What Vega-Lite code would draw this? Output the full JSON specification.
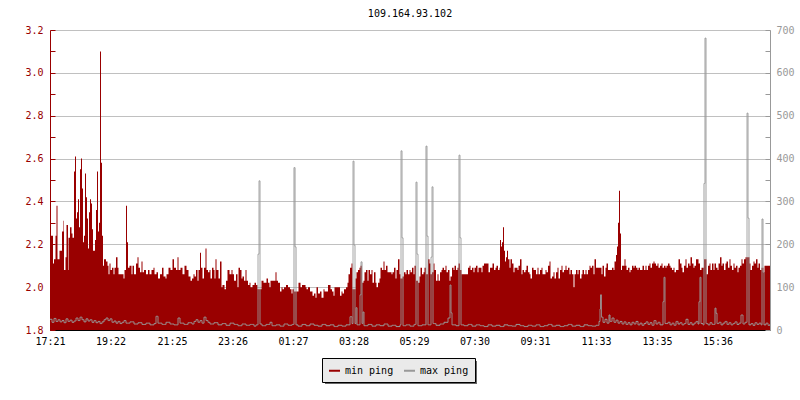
{
"$schema": "https://vega.github.io/schema/vega-lite/v6.json",
"width": 720, "height": 300,
"autosize": {"type": "none"},
"padding": {"left": 50, "top": 30, "right": 30, "bottom": 70},
"background": "white",
"title": {"text": "109.164.93.102", "font": "DejaVu Sans Mono", "fontSize": 10, "fontWeight": "normal", "color": "black", "offset": 6, "anchor": "middle"},
"config": {"view": {"stroke": null}},
"datasets": {
"minp": [
{"t":0,"v":2.24},{"t":6,"v":2.11},{"t":8,"v":2.13},{"t":11,"v":2.24},{"t":13,"v":2.38},{"t":15,"v":2.13},{"t":19,"v":2.17},{"t":24,"v":2.26},{"t":27,"v":2.31},{"t":28,"v":2.08},{"t":31,"v":2.14},{"t":33,"v":2.29},{"t":36,"v":2.08},{"t":37,"v":2.23},{"t":40,"v":2.28},{"t":43,"v":2.25},{"t":45,"v":2.23},{"t":48,"v":2.54},{"t":50,"v":2.61},{"t":52,"v":2.32},{"t":54,"v":2.35},{"t":56,"v":2.41},{"t":58,"v":2.28},{"t":60,"v":2.55},{"t":62,"v":2.6},{"t":64,"v":2.46},{"t":66,"v":2.21},{"t":68,"v":2.24},{"t":70,"v":2.53},{"t":72,"v":2.42},{"t":74,"v":2.32},{"t":76,"v":2.18},{"t":78,"v":2.35},{"t":80,"v":2.41},{"t":82,"v":2.39},{"t":84,"v":2.27},{"t":86,"v":2.17},{"t":88,"v":2.17},{"t":90,"v":2.22},{"t":92,"v":2.36},{"t":94,"v":2.54},{"t":96,"v":2.26},{"t":98,"v":2.3},{"t":100,"v":3.1},{"t":102,"v":2.58},{"t":104,"v":2.24},{"t":106,"v":2.1},{"t":108,"v":2.13},{"t":112,"v":2.12},{"t":115,"v":2.1},{"t":117,"v":2.06},{"t":119,"v":2.11},{"t":121,"v":2.08},{"t":124,"v":2.09},{"t":127,"v":2.06},{"t":129,"v":2.09},{"t":132,"v":2.14},{"t":135,"v":2.09},{"t":137,"v":2.06},{"t":147,"v":2.04},{"t":149,"v":2.08},{"t":152,"v":2.38},{"t":154,"v":2.21},{"t":156,"v":2.09},{"t":159,"v":2.1},{"t":163,"v":2.06},{"t":165,"v":2.1},{"t":168,"v":2.06},{"t":172,"v":2.11},{"t":175,"v":2.14},{"t":177,"v":2.09},{"t":180,"v":2.07},{"t":183,"v":2.12},{"t":185,"v":2.07},{"t":188,"v":2.08},{"t":192,"v":2.06},{"t":196,"v":2.08},{"t":199,"v":2.06},{"t":203,"v":2.08},{"t":207,"v":2.09},{"t":209,"v":2.06},{"t":213,"v":2.07},{"t":216,"v":2.04},{"t":220,"v":2.06},{"t":224,"v":2.09},{"t":227,"v":2.05},{"t":231,"v":2.04},{"t":233,"v":2.06},{"t":237,"v":2.09},{"t":241,"v":2.08},{"t":245,"v":2.13},{"t":248,"v":2.09},{"t":252,"v":2.08},{"t":255,"v":2.14},{"t":257,"v":2.08},{"t":261,"v":2.09},{"t":265,"v":2.06},{"t":269,"v":2.1},{"t":273,"v":2.08},{"t":277,"v":2.05},{"t":281,"v":2.03},{"t":284,"v":2.04},{"t":287,"v":2.06},{"t":289,"v":2.05},{"t":292,"v":2.08},{"t":295,"v":2.03},{"t":297,"v":2.08},{"t":300,"v":2.16},{"t":302,"v":2.09},{"t":305,"v":2.04},{"t":308,"v":2.09},{"t":311,"v":2.18},{"t":313,"v":2.08},{"t":316,"v":2.07},{"t":319,"v":2.08},{"t":321,"v":2.04},{"t":324,"v":2.09},{"t":327,"v":2.08},{"t":329,"v":2.04},{"t":331,"v":2.13},{"t":333,"v":2.08},{"t":337,"v":2.04},{"t":340,"v":2.12},{"t":343,"v":2.0},{"t":345,"v":2.01},{"t":349,"v":1.99},{"t":352,"v":2.03},{"t":355,"v":2.08},{"t":359,"v":2.06},{"t":363,"v":2.08},{"t":365,"v":2.06},{"t":368,"v":2.03},{"t":372,"v":2.06},{"t":375,"v":2.0},{"t":377,"v":2.09},{"t":380,"v":2.08},{"t":383,"v":2.04},{"t":385,"v":2.05},{"t":388,"v":2.03},{"t":391,"v":2.08},{"t":393,"v":2.03},{"t":396,"v":2.01},{"t":399,"v":2.02},{"t":401,"v":2.0},{"t":405,"v":2.01},{"t":409,"v":2.02},{"t":412,"v":2.01},{"t":415,"v":1.99},{"t":423,"v":2.03},{"t":427,"v":2.02},{"t":431,"v":2.02},{"t":433,"v":2.04},{"t":436,"v":2.02},{"t":439,"v":2.0},{"t":441,"v":2.03},{"t":451,"v":2.07},{"t":453,"v":2.03},{"t":456,"v":2.02},{"t":460,"v":1.98},{"t":463,"v":2.0},{"t":465,"v":1.99},{"t":468,"v":2.0},{"t":472,"v":2.01},{"t":476,"v":2.0},{"t":480,"v":1.99},{"t":483,"v":1.97},{"t":485,"v":1.99},{"t":488,"v":1.98},{"t":497,"v":2.02},{"t":501,"v":2.0},{"t":504,"v":2.01},{"t":511,"v":2.0},{"t":513,"v":1.99},{"t":516,"v":2.0},{"t":520,"v":1.98},{"t":525,"v":1.96},{"t":528,"v":1.97},{"t":531,"v":1.95},{"t":533,"v":2.0},{"t":536,"v":1.97},{"t":540,"v":1.98},{"t":543,"v":1.95},{"t":547,"v":1.99},{"t":549,"v":1.98},{"t":556,"v":2.01},{"t":561,"v":1.99},{"t":564,"v":1.98},{"t":567,"v":1.96},{"t":569,"v":2.0},{"t":580,"v":1.96},{"t":583,"v":1.98},{"t":585,"v":1.97},{"t":588,"v":1.99},{"t":592,"v":2.0},{"t":595,"v":2.02},{"t":597,"v":2.06},{"t":600,"v":2.09},{"t":603,"v":2.11},{"t":605,"v":1.99},{"t":611,"v":2.04},{"t":613,"v":2.07},{"t":616,"v":2.08},{"t":619,"v":2.09},{"t":621,"v":2.1},{"t":624,"v":2.02},{"t":627,"v":2.03},{"t":629,"v":2.07},{"t":632,"v":2.08},{"t":635,"v":2.03},{"t":637,"v":2.08},{"t":640,"v":2.06},{"t":643,"v":2.08},{"t":645,"v":2.02},{"t":648,"v":2.07},{"t":651,"v":2.02},{"t":653,"v":2.0},{"t":656,"v":2.02},{"t":659,"v":2.04},{"t":661,"v":2.09},{"t":664,"v":2.08},{"t":667,"v":2.12},{"t":669,"v":2.08},{"t":672,"v":2.1},{"t":675,"v":2.07},{"t":683,"v":2.06},{"t":685,"v":2.07},{"t":688,"v":2.09},{"t":691,"v":2.04},{"t":693,"v":2.08},{"t":696,"v":2.13},{"t":699,"v":2.06},{"t":701,"v":2.04},{"t":705,"v":2.05},{"t":708,"v":2.07},{"t":711,"v":2.06},{"t":713,"v":2.08},{"t":716,"v":2.06},{"t":719,"v":2.08},{"t":721,"v":2.07},{"t":724,"v":2.09},{"t":727,"v":2.06},{"t":729,"v":2.1},{"t":732,"v":2.03},{"t":736,"v":2.02},{"t":739,"v":2.05},{"t":741,"v":2.09},{"t":744,"v":2.06},{"t":747,"v":2.07},{"t":749,"v":2.09},{"t":752,"v":2.06},{"t":756,"v":2.13},{"t":759,"v":2.11},{"t":761,"v":2.06},{"t":764,"v":2.07},{"t":767,"v":2.11},{"t":769,"v":2.08},{"t":772,"v":2.03},{"t":775,"v":2.06},{"t":777,"v":2.03},{"t":780,"v":2.07},{"t":783,"v":2.08},{"t":785,"v":2.09},{"t":788,"v":2.08},{"t":791,"v":2.1},{"t":793,"v":2.07},{"t":796,"v":2.08},{"t":799,"v":2.03},{"t":801,"v":2.05},{"t":804,"v":2.09},{"t":807,"v":2.08},{"t":809,"v":2.1},{"t":812,"v":2.08},{"t":815,"v":2.09},{"t":817,"v":2.11},{"t":820,"v":2.08},{"t":823,"v":2.06},{"t":836,"v":2.09},{"t":839,"v":2.1},{"t":841,"v":2.08},{"t":844,"v":2.09},{"t":847,"v":2.07},{"t":849,"v":2.09},{"t":852,"v":2.1},{"t":855,"v":2.07},{"t":857,"v":2.09},{"t":863,"v":2.07},{"t":865,"v":2.1},{"t":868,"v":2.11},{"t":877,"v":2.07},{"t":880,"v":2.09},{"t":885,"v":2.11},{"t":888,"v":2.08},{"t":891,"v":2.09},{"t":893,"v":2.1},{"t":896,"v":2.08},{"t":899,"v":2.09},{"t":900,"v":2.22},{"t":902,"v":2.19},{"t":904,"v":2.21},{"t":906,"v":2.28},{"t":908,"v":2.17},{"t":910,"v":2.12},{"t":912,"v":2.14},{"t":914,"v":2.17},{"t":916,"v":2.13},{"t":919,"v":2.09},{"t":921,"v":2.13},{"t":924,"v":2.11},{"t":927,"v":2.07},{"t":929,"v":2.09},{"t":935,"v":2.08},{"t":937,"v":2.1},{"t":940,"v":2.13},{"t":943,"v":2.06},{"t":945,"v":2.08},{"t":948,"v":2.07},{"t":951,"v":2.08},{"t":953,"v":2.1},{"t":956,"v":2.07},{"t":959,"v":2.06},{"t":961,"v":2.04},{"t":964,"v":2.09},{"t":967,"v":2.08},{"t":972,"v":2.06},{"t":975,"v":2.09},{"t":977,"v":2.06},{"t":980,"v":2.08},{"t":983,"v":2.09},{"t":985,"v":2.06},{"t":991,"v":2.08},{"t":993,"v":2.07},{"t":996,"v":2.1},{"t":999,"v":2.12},{"t":1001,"v":2.04},{"t":1004,"v":2.05},{"t":1007,"v":2.07},{"t":1009,"v":2.04},{"t":1012,"v":2.07},{"t":1015,"v":2.09},{"t":1017,"v":2.04},{"t":1020,"v":2.08},{"t":1023,"v":2.1},{"t":1025,"v":2.07},{"t":1028,"v":2.08},{"t":1031,"v":2.1},{"t":1033,"v":2.08},{"t":1036,"v":2.09},{"t":1039,"v":2.06},{"t":1041,"v":2.08},{"t":1044,"v":2.06},{"t":1047,"v":2.0},{"t":1049,"v":2.06},{"t":1052,"v":2.08},{"t":1055,"v":2.06},{"t":1057,"v":2.08},{"t":1060,"v":2.04},{"t":1063,"v":2.06},{"t":1065,"v":2.08},{"t":1068,"v":2.06},{"t":1071,"v":2.08},{"t":1073,"v":2.06},{"t":1076,"v":2.08},{"t":1079,"v":2.1},{"t":1081,"v":2.09},{"t":1084,"v":2.1},{"t":1087,"v":2.06},{"t":1089,"v":2.13},{"t":1092,"v":2.09},{"t":1103,"v":2.06},{"t":1105,"v":2.1},{"t":1108,"v":2.05},{"t":1111,"v":2.09},{"t":1113,"v":2.11},{"t":1116,"v":2.08},{"t":1124,"v":2.09},{"t":1127,"v":2.08},{"t":1129,"v":2.12},{"t":1132,"v":2.15},{"t":1134,"v":2.19},{"t":1136,"v":2.3},{"t":1138,"v":2.45},{"t":1140,"v":2.25},{"t":1142,"v":2.08},{"t":1144,"v":2.1},{"t":1149,"v":2.13},{"t":1151,"v":2.1},{"t":1153,"v":2.08},{"t":1156,"v":2.09},{"t":1159,"v":2.07},{"t":1161,"v":2.08},{"t":1164,"v":2.1},{"t":1167,"v":2.09},{"t":1169,"v":2.1},{"t":1172,"v":2.09},{"t":1175,"v":2.08},{"t":1177,"v":2.09},{"t":1180,"v":2.08},{"t":1185,"v":2.1},{"t":1188,"v":2.08},{"t":1191,"v":2.1},{"t":1193,"v":2.08},{"t":1196,"v":2.1},{"t":1199,"v":2.11},{"t":1201,"v":2.09},{"t":1204,"v":2.11},{"t":1207,"v":2.12},{"t":1209,"v":2.11},{"t":1212,"v":2.1},{"t":1215,"v":2.11},{"t":1217,"v":2.09},{"t":1220,"v":2.1},{"t":1223,"v":2.11},{"t":1225,"v":2.09},{"t":1228,"v":2.1},{"t":1231,"v":2.09},{"t":1233,"v":2.1},{"t":1236,"v":2.11},{"t":1239,"v":2.1},{"t":1241,"v":2.09},{"t":1244,"v":2.08},{"t":1247,"v":2.09},{"t":1249,"v":2.07},{"t":1252,"v":2.08},{"t":1257,"v":2.13},{"t":1260,"v":2.11},{"t":1263,"v":2.09},{"t":1265,"v":2.07},{"t":1268,"v":2.1},{"t":1271,"v":2.13},{"t":1273,"v":2.09},{"t":1276,"v":2.11},{"t":1279,"v":2.1},{"t":1281,"v":2.14},{"t":1284,"v":2.11},{"t":1287,"v":2.09},{"t":1289,"v":2.1},{"t":1292,"v":2.13},{"t":1297,"v":2.11},{"t":1300,"v":2.08},{"t":1303,"v":2.09},{"t":1308,"v":2.13},{"t":1313,"v":2.06},{"t":1316,"v":2.1},{"t":1319,"v":2.11},{"t":1321,"v":2.08},{"t":1324,"v":2.11},{"t":1327,"v":2.08},{"t":1329,"v":2.11},{"t":1332,"v":2.09},{"t":1335,"v":2.08},{"t":1337,"v":2.11},{"t":1340,"v":2.14},{"t":1343,"v":2.1},{"t":1345,"v":2.11},{"t":1348,"v":2.08},{"t":1351,"v":2.11},{"t":1353,"v":2.12},{"t":1356,"v":2.09},{"t":1359,"v":2.13},{"t":1361,"v":2.1},{"t":1364,"v":2.08},{"t":1367,"v":2.11},{"t":1369,"v":2.09},{"t":1372,"v":2.1},{"t":1375,"v":2.07},{"t":1377,"v":2.09},{"t":1380,"v":2.1},{"t":1383,"v":2.13},{"t":1385,"v":2.11},{"t":1388,"v":2.13},{"t":1391,"v":2.14},{"t":1399,"v":2.11},{"t":1401,"v":2.08},{"t":1404,"v":2.1},{"t":1407,"v":2.12},{"t":1409,"v":2.11},{"t":1412,"v":2.13},{"t":1415,"v":2.09},{"t":1417,"v":2.11},{"t":1420,"v":2.08},{"t":1423,"v":2.09},{"t":1427,"v":2.07},{"t":1429,"v":2.1},{"t":1440,"v":2.1}
],
"maxp": [
{"t":0,"v":25},{"t":4,"v":18},{"t":8,"v":27},{"t":12,"v":20},{"t":16,"v":24},{"t":20,"v":19},{"t":24,"v":22},{"t":28,"v":17},{"t":32,"v":26},{"t":36,"v":20},{"t":40,"v":23},{"t":44,"v":18},{"t":48,"v":21},{"t":52,"v":28},{"t":56,"v":22},{"t":60,"v":30},{"t":64,"v":24},{"t":68,"v":19},{"t":72,"v":26},{"t":76,"v":21},{"t":80,"v":24},{"t":84,"v":18},{"t":88,"v":22},{"t":92,"v":17},{"t":96,"v":20},{"t":100,"v":15},{"t":104,"v":19},{"t":108,"v":24},{"t":112,"v":28},{"t":116,"v":22},{"t":120,"v":26},{"t":124,"v":18},{"t":128,"v":21},{"t":132,"v":16},{"t":136,"v":20},{"t":140,"v":15},{"t":144,"v":18},{"t":148,"v":22},{"t":152,"v":16},{"t":160,"v":19},{"t":168,"v":14},{"t":176,"v":17},{"t":184,"v":13},{"t":192,"v":16},{"t":200,"v":12},{"t":208,"v":15},{"t":212,"v":32},{"t":216,"v":16},{"t":224,"v":13},{"t":232,"v":18},{"t":240,"v":14},{"t":248,"v":12},{"t":256,"v":28},{"t":260,"v":16},{"t":268,"v":13},{"t":276,"v":17},{"t":284,"v":14},{"t":288,"v":20},{"t":292,"v":24},{"t":296,"v":18},{"t":300,"v":22},{"t":304,"v":16},{"t":308,"v":30},{"t":312,"v":22},{"t":316,"v":18},{"t":320,"v":14},{"t":328,"v":17},{"t":336,"v":12},{"t":344,"v":15},{"t":352,"v":11},{"t":360,"v":16},{"t":368,"v":13},{"t":376,"v":10},{"t":384,"v":14},{"t":392,"v":11},{"t":400,"v":13},{"t":408,"v":9},{"t":412,"v":12},{"t":416,"v":177},{"t":418,"v":348},{"t":420,"v":14},{"t":424,"v":10},{"t":432,"v":13},{"t":440,"v":18},{"t":444,"v":10},{"t":452,"v":12},{"t":460,"v":9},{"t":468,"v":14},{"t":476,"v":11},{"t":484,"v":13},{"t":488,"v":379},{"t":490,"v":194},{"t":492,"v":12},{"t":496,"v":9},{"t":504,"v":13},{"t":512,"v":10},{"t":520,"v":14},{"t":528,"v":11},{"t":536,"v":9},{"t":544,"v":13},{"t":552,"v":10},{"t":560,"v":12},{"t":568,"v":8},{"t":576,"v":11},{"t":584,"v":9},{"t":592,"v":12},{"t":600,"v":31},{"t":604,"v":15},{"t":606,"v":394},{"t":608,"v":198},{"t":610,"v":15},{"t":612,"v":52},{"t":614,"v":12},{"t":620,"v":82},{"t":622,"v":159},{"t":624,"v":15},{"t":626,"v":42},{"t":628,"v":10},{"t":636,"v":13},{"t":644,"v":9},{"t":652,"v":12},{"t":660,"v":10},{"t":668,"v":14},{"t":676,"v":9},{"t":684,"v":11},{"t":692,"v":8},{"t":700,"v":12},{"t":702,"v":418},{"t":704,"v":215},{"t":706,"v":10},{"t":712,"v":12},{"t":720,"v":9},{"t":728,"v":13},{"t":732,"v":345},{"t":734,"v":177},{"t":736,"v":10},{"t":744,"v":12},{"t":752,"v":429},{"t":754,"v":219},{"t":756,"v":12},{"t":762,"v":170},{"t":764,"v":334},{"t":766,"v":15},{"t":772,"v":11},{"t":780,"v":14},{"t":788,"v":18},{"t":796,"v":28},{"t":800,"v":105},{"t":802,"v":40},{"t":804,"v":12},{"t":812,"v":10},{"t":818,"v":408},{"t":820,"v":215},{"t":822,"v":12},{"t":828,"v":10},{"t":836,"v":13},{"t":844,"v":9},{"t":852,"v":12},{"t":860,"v":10},{"t":868,"v":8},{"t":876,"v":12},{"t":884,"v":9},{"t":892,"v":11},{"t":900,"v":8},{"t":908,"v":12},{"t":916,"v":10},{"t":924,"v":9},{"t":932,"v":13},{"t":940,"v":10},{"t":948,"v":8},{"t":956,"v":11},{"t":964,"v":9},{"t":972,"v":12},{"t":980,"v":8},{"t":988,"v":10},{"t":996,"v":13},{"t":1004,"v":9},{"t":1012,"v":11},{"t":1020,"v":8},{"t":1028,"v":10},{"t":1036,"v":13},{"t":1044,"v":9},{"t":1052,"v":11},{"t":1060,"v":8},{"t":1068,"v":12},{"t":1076,"v":10},{"t":1084,"v":9},{"t":1092,"v":11},{"t":1098,"v":20},{"t":1100,"v":49},{"t":1101,"v":82},{"t":1103,"v":30},{"t":1106,"v":18},{"t":1110,"v":25},{"t":1114,"v":16},{"t":1118,"v":35},{"t":1120,"v":20},{"t":1124,"v":28},{"t":1128,"v":18},{"t":1132,"v":23},{"t":1136,"v":16},{"t":1140,"v":20},{"t":1144,"v":14},{"t":1148,"v":19},{"t":1152,"v":13},{"t":1156,"v":17},{"t":1160,"v":12},{"t":1164,"v":18},{"t":1168,"v":14},{"t":1172,"v":20},{"t":1176,"v":12},{"t":1180,"v":16},{"t":1184,"v":11},{"t":1188,"v":15},{"t":1192,"v":19},{"t":1196,"v":13},{"t":1200,"v":17},{"t":1204,"v":11},{"t":1208,"v":22},{"t":1212,"v":14},{"t":1216,"v":18},{"t":1220,"v":12},{"t":1226,"v":66},{"t":1228,"v":123},{"t":1230,"v":15},{"t":1236,"v":18},{"t":1240,"v":12},{"t":1244,"v":16},{"t":1248,"v":11},{"t":1252,"v":20},{"t":1256,"v":14},{"t":1260,"v":17},{"t":1264,"v":12},{"t":1268,"v":15},{"t":1272,"v":25},{"t":1276,"v":13},{"t":1280,"v":17},{"t":1284,"v":12},{"t":1288,"v":16},{"t":1292,"v":20},{"t":1296,"v":14},{"t":1298,"v":66},{"t":1300,"v":123},{"t":1302,"v":15},{"t":1306,"v":12},{"t":1308,"v":342},{"t":1310,"v":681},{"t":1312,"v":15},{"t":1316,"v":12},{"t":1320,"v":17},{"t":1324,"v":13},{"t":1330,"v":51},{"t":1332,"v":39},{"t":1334,"v":15},{"t":1338,"v":18},{"t":1342,"v":12},{"t":1346,"v":16},{"t":1350,"v":20},{"t":1354,"v":13},{"t":1358,"v":17},{"t":1362,"v":12},{"t":1366,"v":15},{"t":1370,"v":19},{"t":1374,"v":13},{"t":1378,"v":16},{"t":1382,"v":35},{"t":1386,"v":14},{"t":1390,"v":18},{"t":1394,"v":506},{"t":1396,"v":261},{"t":1398,"v":12},{"t":1402,"v":15},{"t":1406,"v":11},{"t":1410,"v":17},{"t":1414,"v":13},{"t":1418,"v":16},{"t":1422,"v":12},{"t":1424,"v":259},{"t":1426,"v":135},{"t":1428,"v":12},{"t":1432,"v":16},{"t":1436,"v":11},{"t":1440,"v":14}
]
},
"encoding": {
  "x": {"field": "t", "type": "quantitative", "scale": {"domain": [0, 1440], "nice": false, "zero": false},
    "axis": {"title": null, "values": [0,121,244,365,486,607,728,849,970,1092,1214,1335],
      "labelExpr": "timeFormat(datetime(2024,0,1,17,21+datum.value),'%H:%M')",
      "domainColor": "black", "tickColor": "black", "tickSize": -4, "labelColor": "black",
      "labelFont": "DejaVu Sans Mono", "labelFontSize": 10, "labelPadding": 10, "grid": false,
      "labelFlush": false, "labelOverlap": false}}
},
"layer": [
  {"data": {"name": "minp"},
   "mark": {"type": "area", "interpolate": "step-after"},
   "encoding": {
     "y": {"field": "v", "type": "quantitative", "scale": {"domain": [1.8, 3.2], "zero": false, "nice": false},
       "axis": {"orient": "left", "title": null, "values": [1.8,1.9,2.0,2.1,2.2,2.3,2.4,2.5,2.6,2.7,2.8,2.9,3.0,3.1,3.2],
         "labelExpr": "round(datum.value*10)%2==0 ? format(datum.value,'.1f') : ''",
         "domainColor": "#990000", "tickColor": "#990000", "labelColor": "#990000", "tickSize": -5, "labelPadding": 12,
         "labelFont": "DejaVu Sans Mono", "labelFontSize": 10, "labelOverlap": false, "labelFlush": false,
         "grid": true, "gridColor": "#c0c0c0",
         "gridOpacity": {"condition": {"test": "round(datum.value*10)%2==0", "value": 1}, "value": 0}}},
     "y2": {"datum": 1.8},
     "color": {"datum": "min ping", "type": "nominal",
       "scale": {"domain": ["min ping", "max ping"], "range": ["#990000", "#999999"]},
       "legend": {"orient": "none", "legendX": 272, "legendY": 328, "direction": "horizontal", "title": null,
         "fillColor": "#eaeaea", "strokeColor": "black", "padding": 6, "symbolType": "stroke", "symbolSize": 121,
         "symbolStrokeWidth": 2, "labelFont": "DejaVu Sans Mono", "labelFontSize": 10, "labelColor": "black",
         "labelOffset": 4, "columnPadding": 6, "zindex": 2}}
   }},
  {"data": {"name": "maxp"},
   "mark": {"type": "line", "interpolate": "step-after", "strokeWidth": 1},
   "encoding": {
     "y": {"field": "v", "type": "quantitative", "scale": {"domain": [0, 700], "nice": false},
       "axis": {"orient": "right", "title": null, "values": [0,50,100,150,200,250,300,350,400,450,500,550,600,650,700],
         "labelExpr": "datum.value%100==0 ? datum.label : ''",
         "domainColor": "#999999", "tickColor": "#999999", "labelColor": "#999999", "tickSize": -5, "labelPadding": 11,
         "labelFont": "DejaVu Sans Mono", "labelFontSize": 10, "labelOverlap": false, "labelFlush": false, "grid": false}},
     "color": {"datum": "max ping", "type": "nominal"},
     "strokeDash": {"datum": "shadow", "type": "nominal", "scale": {"range": [[1, 0]]},
       "legend": {"orient": "none", "legendX": 275, "legendY": 331, "direction": "horizontal", "title": null,
         "fillColor": "#666666", "strokeColor": null, "padding": 6,
         "symbolType": "M-1,-1H24.45V1H-1Z", "symbolSize": 121,
         "symbolOpacity": 0, "symbolStrokeWidth": 0, "labelFontSize": 10,
         "labelOffset": 0, "labelExpr": "''", "zindex": 1}}
   }}
],
"resolve": {"scale": {"y": "independent"}}
}
